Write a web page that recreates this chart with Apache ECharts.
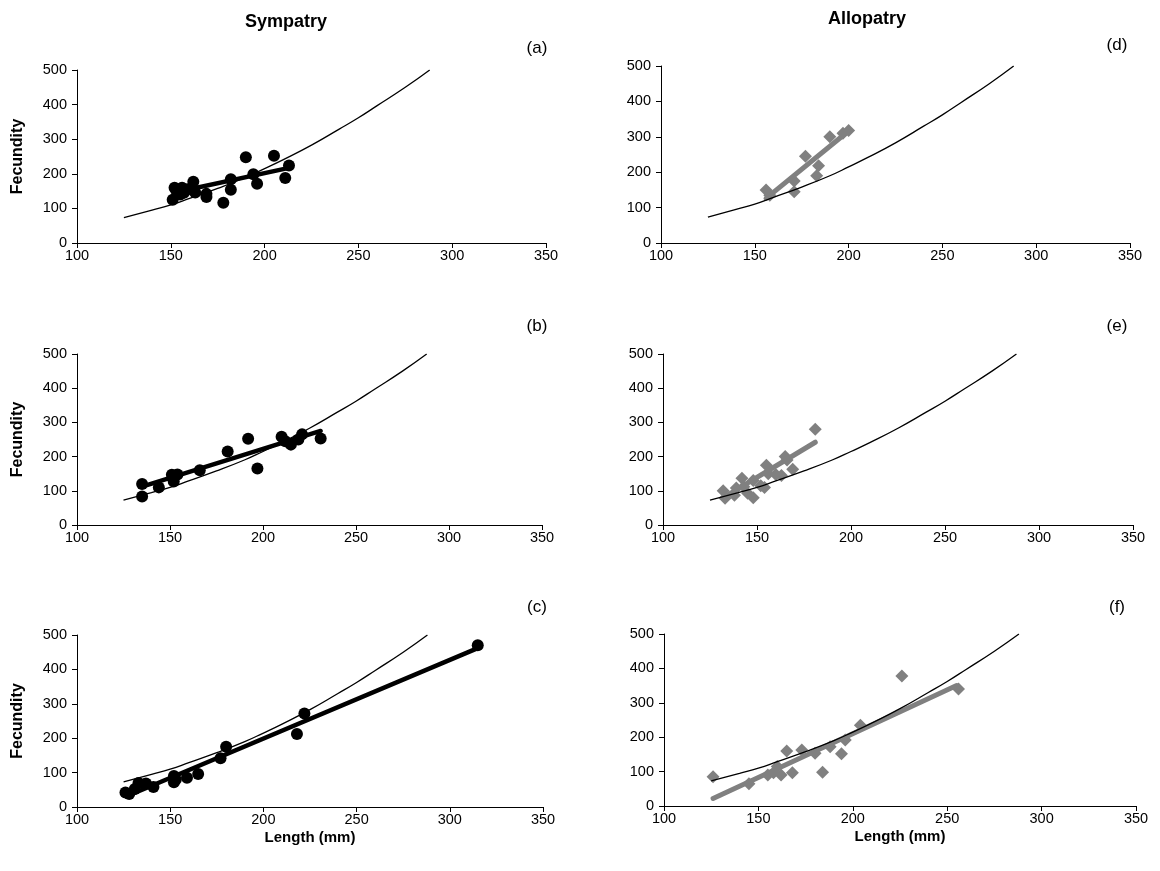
<!DOCTYPE html>
<html><head><meta charset="utf-8">
<script src="https://cdn.jsdelivr.net/npm/echarts@6/dist/echarts.min.js"></script>
<style>html,body{margin:0;padding:0;background:#fff}#c{width:1160px;height:871px}</style>
</head><body><div id="c"></div>
<script>
// Reference curve
const curveL = [125,140,150,160,175,190,200,210,225,240,250,260,275,288];
const curveF = [73,95,110,129,158,190,215,241,283,330,362,397,450,500];

// (a) Sympatry
const aLen = [151,152,153,155,156,157,159,162,163,169,169,178,182,182,190,194,196,205,211,213];
const aFec = [125,160,150,140,160,145,155,177,146,133,142,116,184,154,248,199,171,252,188,224];
const aFitL = [152,213], aFitF = [146,217];
// (b)
const bLen = [135,135,144,151,152,154,166,181,192,197,210,212,215,219,221,231];
const bFec = [120,83,110,147,127,148,160,215,252,165,258,245,235,250,265,253];
const bFitL = [135,231], bFitF = [112,275];
// (c)
const cLen = [126,128,131,133,137,141,152,152,153,159,165,177,180,218,222,315];
const cFec = [42,38,52,70,68,58,90,72,80,85,96,142,175,212,272,470];
const cFitL = [127,315], cFitF = [32,462];
// (d) Allopatry
const dLen = [156,158,171,171,177,183,184,190,197,200];
const dFec = [150,135,145,175,245,190,218,300,310,318];
const dFitL = [156,199], dFitF = [126,312];
// (e)
const eLen = [132,133,138,139,142,143,145,148,148,152,154,155,156,160,163,165,166,169,181];
const eFec = [100,78,87,108,137,112,93,80,130,115,110,175,150,148,145,200,190,163,280];
const eFitL = [133,181], eFitF = [83,242];
// (f)
const fLen = [126,145,155,158,160,162,165,168,173,180,184,188,194,196,204,226,256];
const fFec = [85,65,90,97,115,90,160,97,163,153,98,172,152,192,235,378,340];
const fFitL = [126,255], fFitF = [22,350];

const xTicks = [100,150,200,250,300,350];
const yTicks = [0,100,200,300,400,500];

const zip = (a,b) => a.map((v,i)=>[v,b[i]]);
const FONT = 'Liberation Sans, Arial, sans-serif';

const panels = [
  {L:aLen,F:aFec,fl:aFitL,ff:aFitF,sym:true, grid:{left:77,top:70,width:469,height:173}, ylab:true, xlab:false},
  {L:bLen,F:bFec,fl:bFitL,ff:bFitF,sym:true, grid:{left:77,top:354,width:465,height:171}, ylab:true, xlab:false},
  {L:cLen,F:cFec,fl:cFitL,ff:cFitF,sym:true, grid:{left:77,top:635,width:466,height:172}, ylab:true, xlab:true},
  {L:dLen,F:dFec,fl:dFitL,ff:dFitF,sym:false,grid:{left:661,top:66,width:469,height:177}, ylab:false, xlab:false},
  {L:eLen,F:eFec,fl:eFitL,ff:eFitF,sym:false,grid:{left:663,top:354,width:470,height:171}, ylab:false, xlab:false},
  {L:fLen,F:fFec,fl:fFitL,ff:fFitF,sym:false,grid:{left:664,top:634,width:472,height:172}, ylab:false, xlab:true}
];

const grid=[], xAxis=[], yAxis=[], series=[];
panels.forEach((p,i)=>{
  grid.push(p.grid);
  xAxis.push({type:'value',gridIndex:i,min:xTicks[0],max:xTicks[xTicks.length-1],interval:50,
    axisLine:{show:true,onZero:false,lineStyle:{color:'#000',width:1}},
    axisTick:{show:true,length:5,lineStyle:{color:'#000'}},
    axisLabel:{color:'#000',fontSize:14.5,fontFamily:FONT,margin:5},
    splitLine:{show:false},
    name:p.xlab?'Length (mm)':'',nameLocation:'middle',nameGap:23,
    nameTextStyle:{color:'#000',fontSize:15,fontWeight:'bold',fontFamily:FONT}});
  yAxis.push({type:'value',gridIndex:i,min:yTicks[0],max:yTicks[yTicks.length-1],interval:100,
    axisLine:{show:true,onZero:false,lineStyle:{color:'#000',width:1}},
    axisTick:{show:true,length:5,lineStyle:{color:'#000'}},
    axisLabel:{color:'#000',fontSize:14.5,fontFamily:FONT,margin:10},
    splitLine:{show:false},
    name:p.ylab?'Fecundity':'',nameLocation:'middle',nameGap:51,nameRotate:90,
    nameTextStyle:{color:'#000',fontSize:16,fontWeight:'bold',fontFamily:FONT}});
  const col = p.sym?'#000':'#808080';
  series.push({type:'scatter',xAxisIndex:i,yAxisIndex:i,data:zip(p.L,p.F),
    symbol:p.sym?'circle':'diamond',symbolSize:p.sym?12:13,
    itemStyle:{color:col,opacity:1},silent:true,z:2});
  series.push({type:'line',xAxisIndex:i,yAxisIndex:i,data:zip(p.fl,p.ff),showSymbol:false,symbol:'none',
    lineStyle:{color:col,width:p.sym?4.5:5,cap:'round'},silent:true,z:3});
  series.push({type:'line',xAxisIndex:i,yAxisIndex:i,data:zip(curveL,curveF),showSymbol:false,symbol:'none',
    smooth:true,lineStyle:{color:'#000',width:1.3},silent:true,z:4});
});

const graphic=[
  {type:'text',x:286,y:22,style:{text:'Sympatry',fill:'#000',font:'bold 18px '+FONT,align:'center',verticalAlign:'middle'}},
  {type:'text',x:867,y:19,style:{text:'Allopatry',fill:'#000',font:'bold 18px '+FONT,align:'center',verticalAlign:'middle'}},
  {type:'text',x:537,y:48,style:{text:'(a)',fill:'#000',font:'17px '+FONT,align:'center',verticalAlign:'middle'}},
  {type:'text',x:1117,y:45,style:{text:'(d)',fill:'#000',font:'17px '+FONT,align:'center',verticalAlign:'middle'}},
  {type:'text',x:537,y:326,style:{text:'(b)',fill:'#000',font:'17px '+FONT,align:'center',verticalAlign:'middle'}},
  {type:'text',x:1117,y:326,style:{text:'(e)',fill:'#000',font:'17px '+FONT,align:'center',verticalAlign:'middle'}},
  {type:'text',x:537,y:607,style:{text:'(c)',fill:'#000',font:'17px '+FONT,align:'center',verticalAlign:'middle'}},
  {type:'text',x:1117,y:607,style:{text:'(f)',fill:'#000',font:'17px '+FONT,align:'center',verticalAlign:'middle'}}
];

const chart = echarts.init(document.getElementById('c'),null,{renderer:'canvas'});
chart.setOption({animation:false,backgroundColor:'#fff',grid,xAxis,yAxis,series,graphic});
</script></body></html>
